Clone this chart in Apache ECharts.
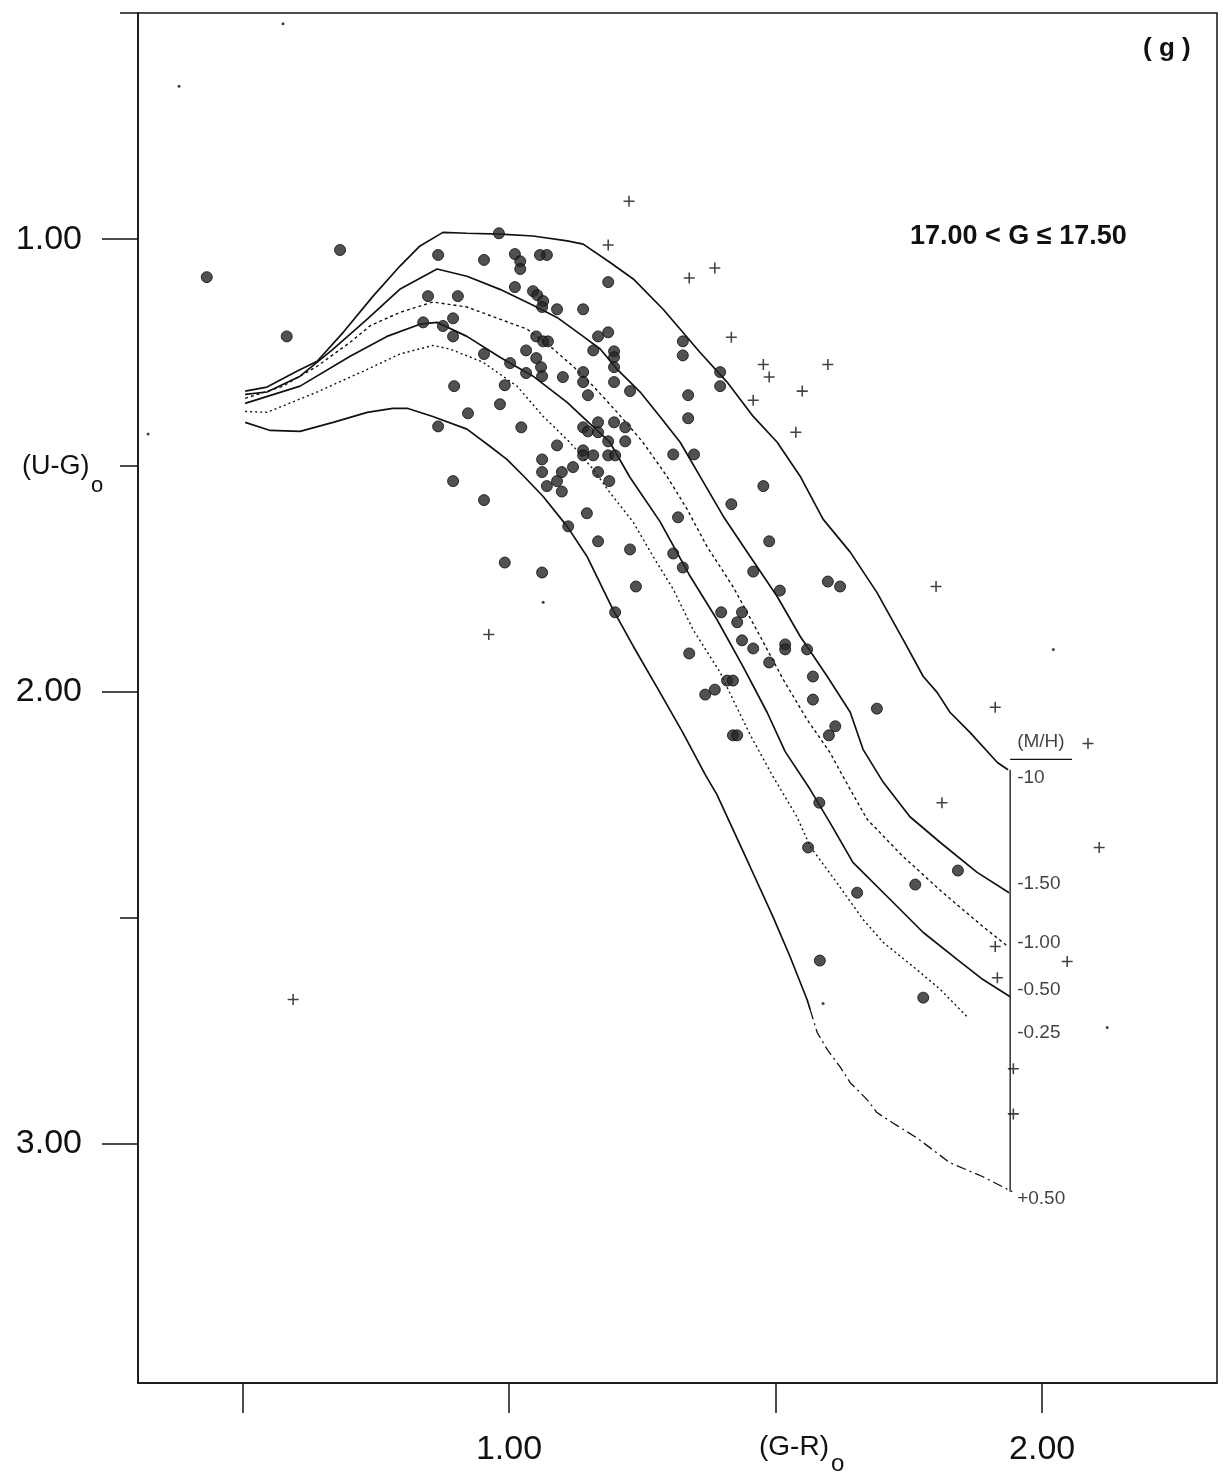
<!DOCTYPE html>
<html>
<head>
<meta charset="utf-8">
<script src="https://cdn.jsdelivr.net/npm/echarts@6/dist/echarts.min.js"></script>
<style>
  html, body { margin: 0; padding: 0; background: #ffffff; }
  #chart { width: 1223px; height: 1484px; }
</style>
</head>
<body>
<div id="chart"></div>
<script>
// Two-colour diagram (G-R)o vs (U-G)o, stars with 17.00 < G <= 17.50,
// with model sequences for several metallicities [M/H].

const xTickValues = [0.5, 1.0, 1.5, 2.0];
const xLabelValues = [1.0, 2.0];
const yMajorValues = [1.0, 2.0, 3.0];
const yMinorValues = [0.5, 1.5, 2.5];

// model sequences, [(G-R)o, (U-G)o]
const seqM10 = [[0.505,1.336],[0.546,1.327],[0.602,1.292],[0.640,1.270],[0.689,1.206],[0.745,1.126],[0.795,1.060],[0.833,1.015],[0.876,0.985],[0.921,0.987],[0.983,0.989],[1.045,0.993],[1.109,1.004],[1.139,1.011],[1.189,1.051],[1.233,1.088],[1.289,1.155],[1.326,1.206],[1.358,1.250],[1.409,1.316],[1.458,1.392],[1.503,1.449],[1.546,1.524],[1.589,1.619],[1.640,1.692],[1.690,1.781],[1.739,1.885],[1.777,1.967],[1.803,2.002],[1.827,2.046],[1.865,2.091],[1.916,2.157],[1.936,2.173]];
const seqM150 = [[0.505,1.343],[0.546,1.338],[0.608,1.303],[0.670,1.243],[0.734,1.177],[0.795,1.111],[0.865,1.066],[0.921,1.082],[0.983,1.111],[1.045,1.146],[1.090,1.173],[1.139,1.215],[1.171,1.243],[1.203,1.288],[1.246,1.338],[1.283,1.392],[1.321,1.449],[1.358,1.524],[1.402,1.613],[1.452,1.701],[1.503,1.790],[1.546,1.878],[1.597,1.967],[1.640,2.046],[1.664,2.128],[1.702,2.201],[1.752,2.277],[1.809,2.334],[1.878,2.400],[1.938,2.445]];
const seqM100 = [[0.505,1.352],[0.576,1.325],[0.640,1.281],[0.702,1.228],[0.739,1.192],[0.795,1.162],[0.857,1.139],[0.921,1.150],[0.983,1.177],[1.034,1.199],[1.077,1.237],[1.120,1.281],[1.158,1.325],[1.203,1.383],[1.251,1.449],[1.296,1.524],[1.334,1.597],[1.371,1.679],[1.420,1.768],[1.471,1.878],[1.514,1.973],[1.559,2.062],[1.602,2.135],[1.640,2.217],[1.672,2.283],[1.739,2.365],[1.814,2.445],[1.889,2.520],[1.936,2.564]];
const seqM050 = [[0.505,1.363],[0.608,1.325],[0.702,1.259],[0.771,1.215],[0.833,1.188],[0.865,1.184],[0.921,1.215],[0.983,1.261],[1.045,1.303],[1.109,1.361],[1.139,1.394],[1.189,1.449],[1.227,1.527],[1.283,1.624],[1.340,1.746],[1.390,1.841],[1.439,1.945],[1.484,2.046],[1.518,2.133],[1.565,2.217],[1.602,2.290],[1.645,2.378],[1.715,2.460],[1.777,2.533],[1.841,2.593],[1.889,2.637],[1.940,2.675]];
const seqM025 = [[0.505,1.381],[0.546,1.383],[0.640,1.338],[0.734,1.288],[0.795,1.254],[0.857,1.235],[0.889,1.243],[0.951,1.272],[1.015,1.325],[1.064,1.392],[1.114,1.449],[1.158,1.509],[1.189,1.560],[1.233,1.626],[1.270,1.701],[1.308,1.774],[1.345,1.863],[1.396,1.958],[1.420,2.018],[1.452,2.095],[1.495,2.188],[1.540,2.277],[1.565,2.343],[1.615,2.423],[1.664,2.504],[1.702,2.555],[1.765,2.615],[1.809,2.659],[1.859,2.719]];
const seqP050 = [[0.505,1.405],[0.552,1.423],[0.608,1.425],[0.670,1.405],[0.734,1.383],[0.782,1.374],[0.809,1.374],[0.857,1.392],[0.921,1.420],[0.964,1.458],[0.996,1.487],[1.030,1.527],[1.064,1.569],[1.109,1.635],[1.146,1.701],[1.195,1.819],[1.233,1.900],[1.283,2.002],[1.326,2.091],[1.368,2.184],[1.390,2.228],[1.420,2.305],[1.452,2.387],[1.495,2.498],[1.527,2.586],[1.559,2.681],[1.565,2.704]];
const seqP050Tail = [[1.565,2.704],[1.578,2.754],[1.597,2.792],[1.621,2.830],[1.640,2.865],[1.672,2.903],[1.690,2.931],[1.720,2.954],[1.765,2.987],[1.827,3.042],[1.889,3.073],[1.944,3.106]];

// metallicity key at the red end of the sequences
const keyX = 1.94;
const keyLine = [[keyX, 2.173], [keyX, 3.106]];
const keyHeader = [[keyX, 2.111, '(M/H)']];
const keyRule = [[1.94, 2.150], [2.056, 2.150]];
const keyLabels = [
  [keyX, 2.190, '-10'],
  [keyX, 2.425, '-1.50'],
  [keyX, 2.555, '-1.00'],
  [keyX, 2.659, '-0.50'],
  [keyX, 2.754, '-0.25'],
  [keyX, 3.122, '+0.50']
];

// observed stars (filled circles)
const starsDots = [[0.433,1.084],[0.683,1.024],[0.583,1.215],[0.867,1.035],[0.953,1.046],[0.981,0.987],[1.011,1.033],[1.021,1.049],[1.021,1.066],[1.058,1.035],[1.071,1.035],[1.186,1.095],[1.011,1.106],[1.045,1.115],[1.053,1.124],[1.064,1.137],[1.062,1.150],[1.090,1.155],[1.139,1.155],[0.848,1.126],[0.904,1.126],[0.839,1.184],[0.876,1.192],[0.895,1.175],[0.895,1.215],[1.051,1.215],[1.064,1.226],[1.073,1.226],[1.167,1.215],[1.186,1.206],[1.032,1.246],[0.953,1.254],[1.051,1.263],[1.158,1.246],[1.197,1.248],[1.197,1.261],[1.326,1.226],[1.326,1.257],[1.002,1.274],[1.060,1.283],[1.062,1.303],[1.032,1.296],[1.101,1.305],[1.139,1.294],[1.139,1.316],[1.197,1.283],[1.197,1.316],[1.227,1.336],[1.396,1.294],[1.396,1.325],[0.992,1.323],[0.897,1.325],[1.148,1.345],[1.336,1.345],[1.336,1.396],[0.983,1.365],[0.923,1.385],[0.867,1.414],[1.023,1.416],[1.139,1.416],[1.148,1.425],[1.167,1.405],[1.167,1.427],[1.197,1.405],[1.218,1.416],[1.090,1.456],[1.186,1.447],[1.218,1.447],[1.139,1.467],[1.139,1.478],[1.158,1.478],[1.186,1.478],[1.199,1.478],[1.308,1.476],[1.347,1.476],[1.062,1.487],[1.062,1.515],[1.099,1.515],[1.120,1.504],[1.167,1.515],[1.071,1.546],[1.090,1.535],[1.099,1.558],[1.188,1.535],[1.477,1.546],[1.417,1.586],[1.146,1.606],[1.317,1.615],[1.111,1.635],[0.895,1.535],[0.953,1.577],[1.167,1.668],[0.992,1.715],[1.062,1.737],[1.227,1.686],[1.238,1.768],[1.199,1.825],[1.308,1.695],[1.326,1.726],[1.398,1.825],[1.437,1.825],[1.428,1.847],[1.437,1.887],[1.338,1.916],[1.409,1.976],[1.420,1.976],[1.386,1.996],[1.368,2.007],[1.420,2.097],[1.428,2.097],[1.488,1.668],[1.458,1.735],[1.508,1.777],[1.598,1.757],[1.621,1.768],[1.458,1.905],[1.518,1.896],[1.518,1.907],[1.559,1.907],[1.488,1.936],[1.570,1.967],[1.570,2.018],[1.690,2.038],[1.612,2.077],[1.600,2.097],[1.582,2.246],[1.561,2.345],[1.653,2.445],[1.842,2.396],[1.762,2.427],[1.583,2.595],[1.777,2.677]];

// stars plotted as crosses
const starsCross = [[1.225,0.916],[1.186,1.013],[1.338,1.086],[1.386,1.064],[1.417,1.217],[1.477,1.277],[1.598,1.277],[1.488,1.305],[1.550,1.336],[1.458,1.356],[1.538,1.427],[1.801,1.768],[0.962,1.874],[1.912,2.035],[2.086,2.115],[1.812,2.246],[2.107,2.345],[1.912,2.564],[2.047,2.597],[1.916,2.633],[0.595,2.681],[1.946,2.834],[1.946,2.934]];

// faint point-like marks
const starsFaint = [[0.576,0.524],[0.381,0.662],[0.323,1.431],[1.064,1.803],[2.021,1.907],[2.122,2.743],[1.589,2.690]];

const FONT = '"Liberation Sans", Arial, Helvetica, sans-serif';
const INK = '#111111';
const crossPath = 'path://M4.3,0 H5.7 V4.3 H10 V5.7 H5.7 V10 H4.3 V5.7 H0 V4.3 H4.3 Z';

function seq(data, type, width) {
  return {
    type: 'line', data: data, showSymbol: false, symbol: 'none', silent: true,
    lineStyle: { color: INK, width: width, type: type }, z: 3
  };
}

const chart = echarts.init(document.getElementById('chart'), null, { renderer: 'canvas' });

chart.setOption({
  animation: false,
  backgroundColor: '#ffffff',
  grid: { left: 138, right: 6, top: 13, bottom: 101, show: true, borderColor: INK, borderWidth: 1.5, backgroundColor: 'transparent' },
  xAxis: {
    type: 'value', min: 0.304, max: 2.328,
    axisLine: { show: true, lineStyle: { color: INK, width: 1.5 } },
    axisTick: { show: true, inside: false, length: 30, customValues: xTickValues, lineStyle: { color: INK, width: 1.5 } },
    axisLabel: { show: true, customValues: xLabelValues, margin: 50, fontFamily: FONT, fontSize: 34, color: INK, formatter: v => v.toFixed(2) },
    splitLine: { show: false }
  },
  yAxis: [{
    type: 'value', inverse: true, min: 0.5, max: 3.529,
    axisLine: { show: true, lineStyle: { color: INK, width: 1.5 } },
    axisTick: { show: true, inside: false, length: 36, customValues: yMajorValues, lineStyle: { color: INK, width: 1.5 } },
    axisLabel: { show: true, customValues: yMajorValues, margin: 56, fontFamily: FONT, fontSize: 34, color: INK, formatter: v => v.toFixed(2) },
    splitLine: { show: false }
  }, {
    type: 'value', inverse: true, min: 0.5, max: 3.529, position: 'left',
    axisLine: { show: false },
    axisTick: { show: true, inside: false, length: 18, customValues: yMinorValues, lineStyle: { color: INK, width: 1.5 } },
    axisLabel: { show: false },
    splitLine: { show: false }
  }],
  graphic: [
    { type: 'text', left: 1143, top: 36, style: { text: '( g )', font: 'bold 26px ' + FONT, fill: INK } },
    { type: 'text', left: 910, top: 223, style: { text: '17.00 < G \u2264 17.50', font: 'bold 27px ' + FONT, fill: INK } },
    { type: 'text', left: 22, top: 453, style: { text: '(U-G)', font: '27px ' + FONT, fill: INK } },
    { type: 'text', left: 91, top: 475, style: { text: 'o', font: '22px ' + FONT, fill: INK } },
    { type: 'text', left: 759, top: 1433, style: { text: '(G-R)', font: '28px ' + FONT, fill: INK } },
    { type: 'text', left: 831, top: 1452, style: { text: 'o', font: '24px ' + FONT, fill: INK } }
  ],
  series: [
    seq(seqM10, 'solid', 1.7),
    seq(seqM150, 'solid', 1.7),
    seq(seqM100, [3, 3], 1.4),
    seq(seqM050, 'solid', 1.7),
    seq(seqM025, [2, 3], 1.4),
    seq(seqP050, 'solid', 1.7),
    seq(seqP050Tail, [10, 4, 2, 4], 1.3),
    seq(keyLine, 'solid', 1.3),
    seq(keyRule, 'solid', 1.3),
    {
      type: 'scatter', data: keyLabels.concat(keyHeader), symbolSize: 0, silent: true, z: 4,
      label: { show: true, position: 'right', distance: 7, formatter: p => p.data[2], fontFamily: FONT, fontSize: 19, color: INK }
    },
    {
      type: 'scatter', data: starsDots, symbol: 'circle', symbolSize: 11, silent: true, z: 5,
      itemStyle: { color: '#262626', borderColor: '#0d0d0d', borderWidth: 1 }
    },
    {
      type: 'scatter', data: starsCross, symbol: crossPath, symbolSize: 11, silent: true, z: 5,
      itemStyle: { color: INK }
    },
    {
      type: 'scatter', data: starsFaint, symbol: 'circle', symbolSize: 3, silent: true, z: 5,
      itemStyle: { color: INK }
    }
  ]
});
</script>
</body>
</html>
